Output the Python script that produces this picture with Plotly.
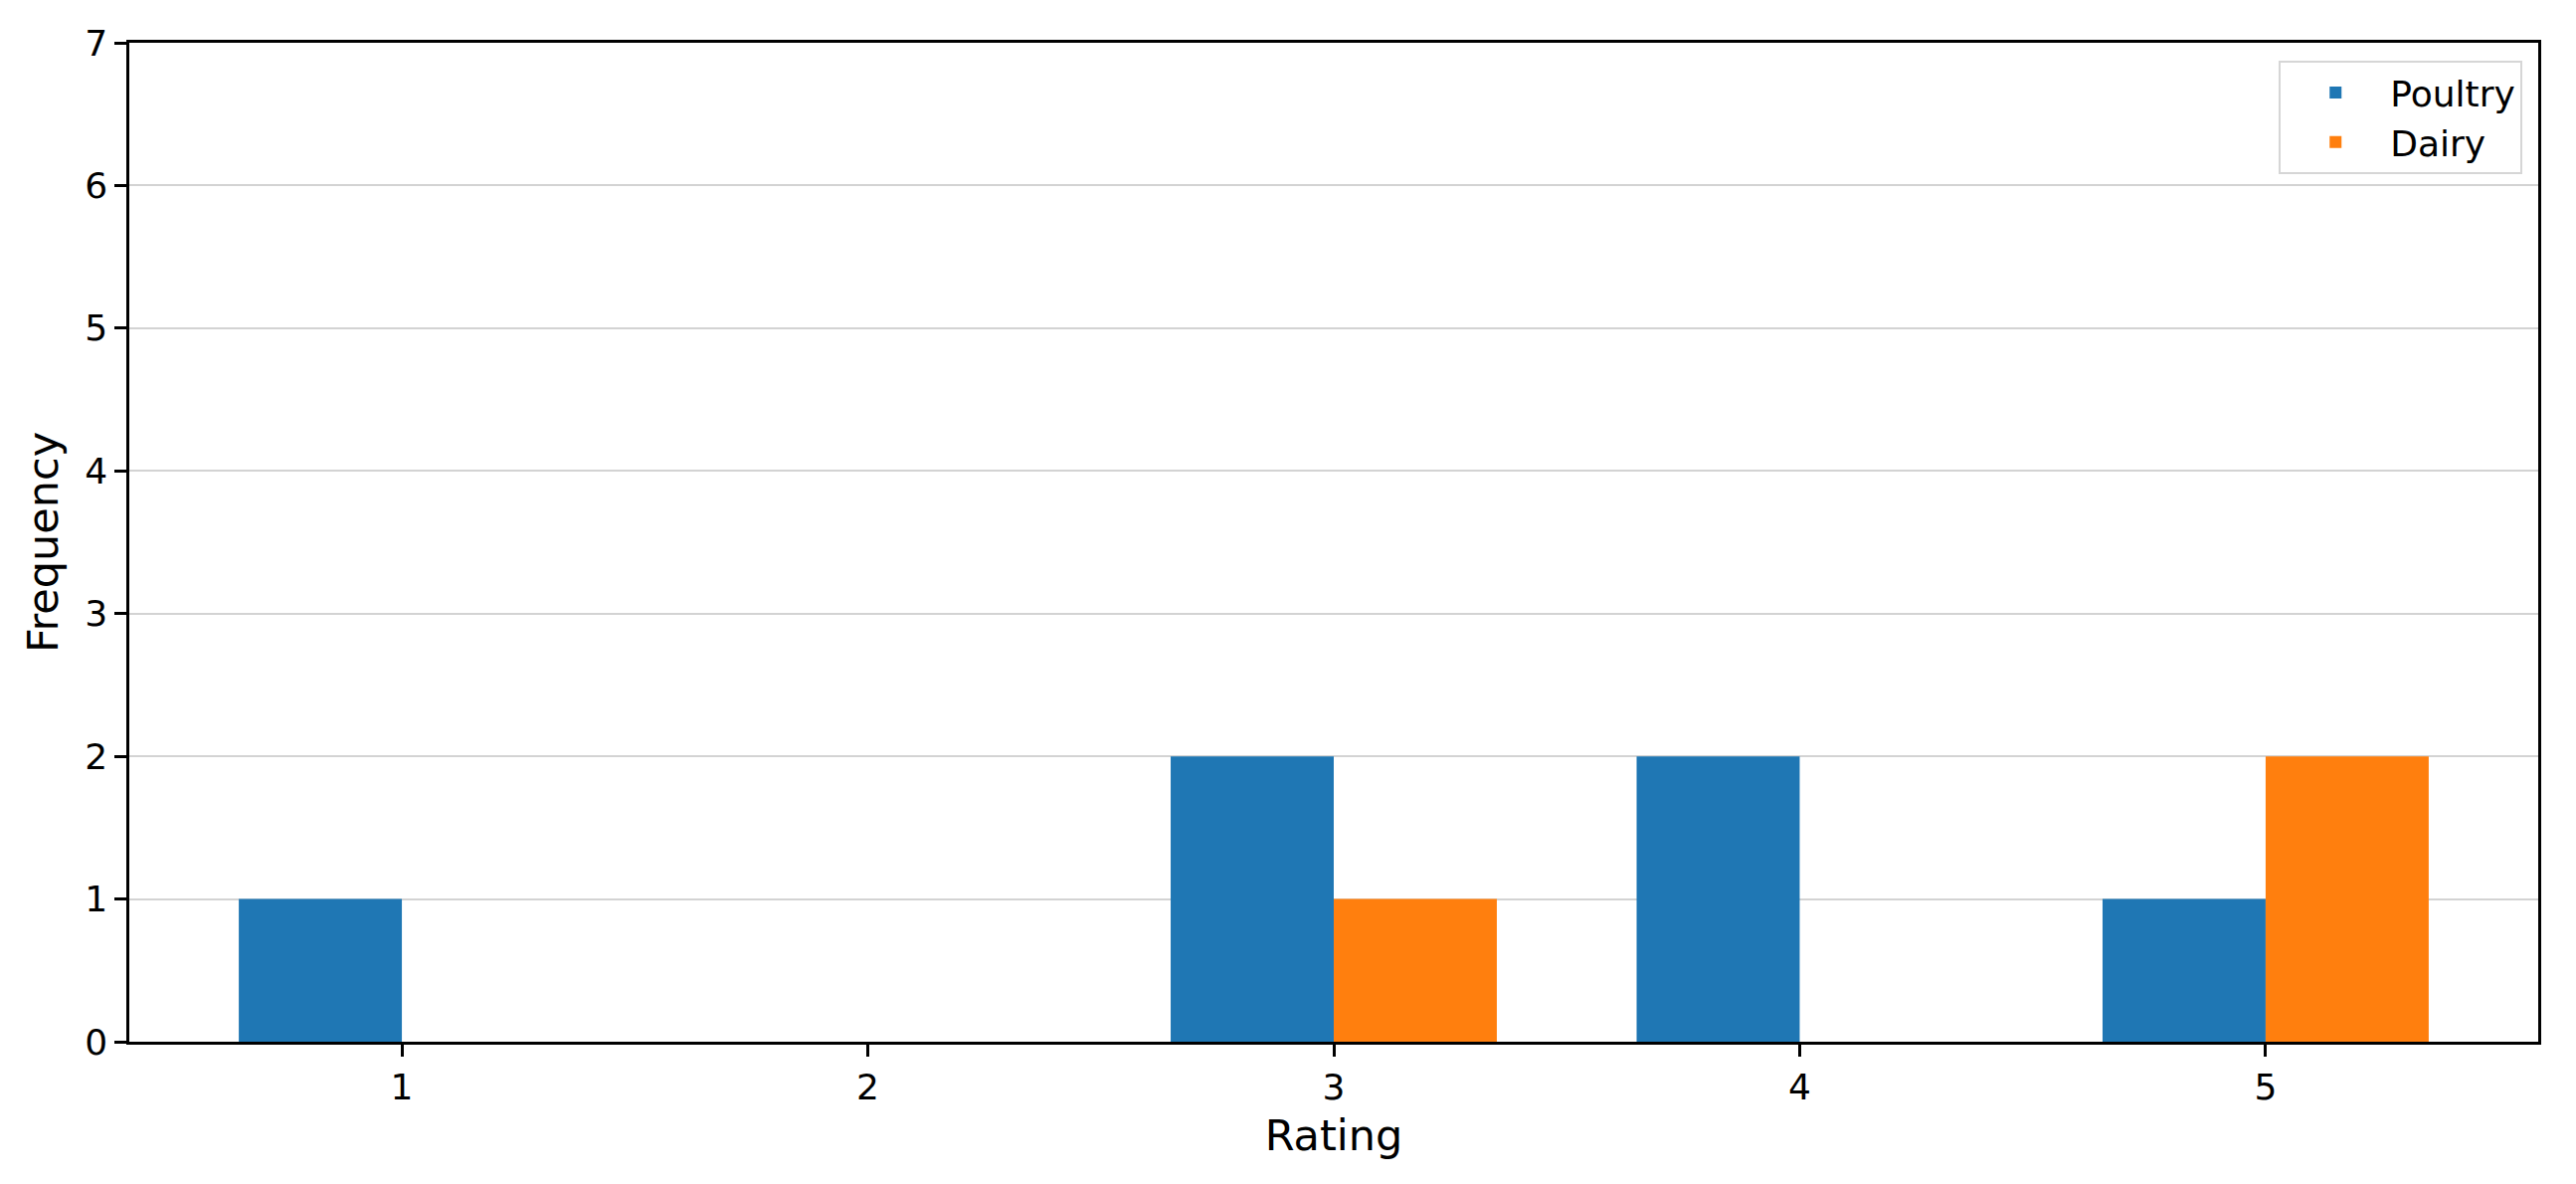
import plotly.graph_objects as go

ratings = [1, 2, 3, 4, 5]
poultry = [1, 0, 2, 2, 1]
dairy = [0, 0, 1, 0, 2]
y_ticks = [0, 1, 2, 3, 4, 5, 6, 7]

BAR_W = 0.35
FONT = "DejaVu Sans, Liberation Sans, sans-serif"

fig = go.Figure()
fig.add_trace(go.Bar(x=ratings, y=poultry, name="Poultry", width=BAR_W, offset=-BAR_W,
                     marker=dict(color="#1f77b4", line=dict(width=0))))
fig.add_trace(go.Bar(x=ratings, y=dairy, name="Dairy", width=BAR_W, offset=0,
                     marker=dict(color="#ff7f0e", line=dict(width=0))))

axis_common = dict(
    showline=True, linecolor="black", linewidth=2.5, mirror=True,
    ticks="outside", ticklen=12, tickwidth=2.5, tickcolor="black",
    tickfont=dict(family=FONT, size=36, color="black"),
    zeroline=False, automargin=False,
)

fig.update_layout(
    width=2582, height=1182,
    margin=dict(l=122, r=38, t=35, b=143),
    paper_bgcolor="white", plot_bgcolor="white",
    barmode="overlay",
    font=dict(family=FONT, color="black"),
    showlegend=True,
    legend=dict(
        x=0.9935, y=0.982, xanchor="right", yanchor="top",
        bgcolor="rgba(255,255,255,0.8)", bordercolor="#d6d6d6", borderwidth=2,
        font=dict(family=FONT, size=36, color="black"),
        itemwidth=100, tracegroupgap=4,
    ),
    xaxis=dict(
        range=[0.415, 5.585], tickvals=ratings, ticktext=[str(r) for r in ratings],
        showgrid=False,
        title=dict(text="Rating", font=dict(family=FONT, size=43, color="black"), standoff=14),
        **axis_common,
    ),
    yaxis=dict(
        range=[0, 7], tickvals=y_ticks, ticktext=[str(v) for v in y_ticks],
        showgrid=True, gridcolor="#d3d3d3", gridwidth=1.5,
        title=dict(text="Frequency", font=dict(family=FONT, size=43, color="black"), standoff=14),
        **axis_common,
    ),
)

fig.write_html("out.html")
